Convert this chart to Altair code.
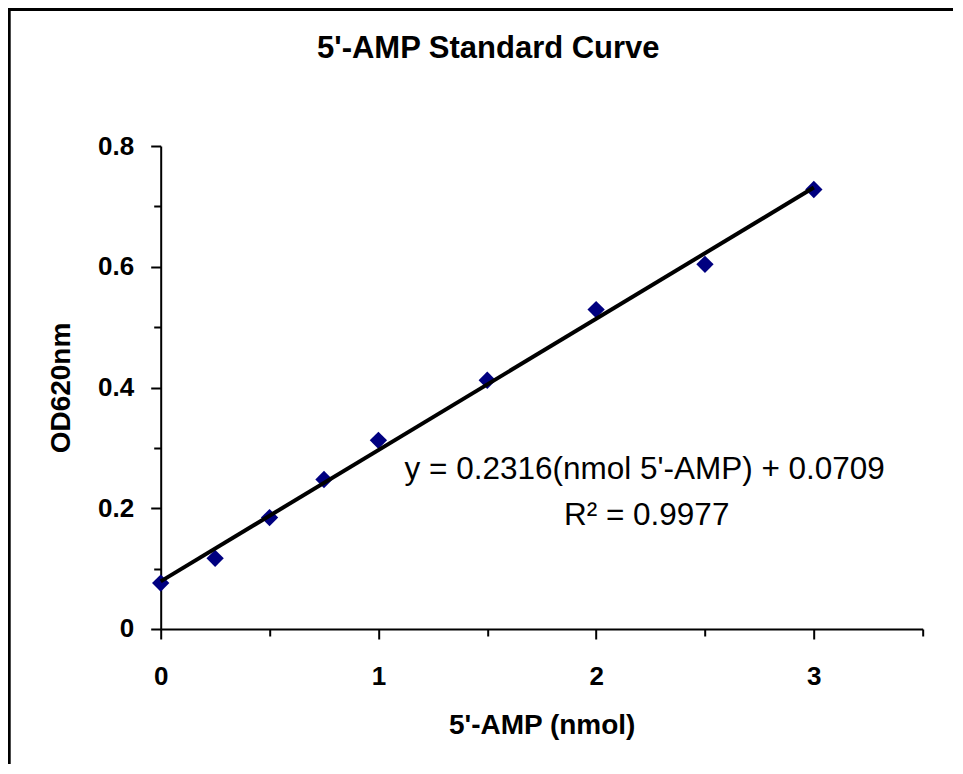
import altair as alt
import pandas as pd

# data
amp_nmol = [0, 0.25, 0.5, 0.75, 1.0, 1.5, 2.0, 2.5, 3.0]
od620 = [0.076, 0.117, 0.1845, 0.2476, 0.3125, 0.412, 0.529, 0.604, 0.728]

x_ticks = [0, 0.5, 1, 1.5, 2, 2.5, 3, 3.5]
y_ticks = [0, 0.1, 0.2, 0.3, 0.4, 0.5, 0.6, 0.7, 0.8]

chart_title = "5'-AMP Standard Curve"
eq_line1 = "y = 0.2316(nmol 5'-AMP) + 0.0709"
eq_line2 = "R\u00b2 = 0.9977"

df = pd.DataFrame({"x": amp_nmol, "y": od620})

FONT = "Liberation Sans"

x_enc = alt.X(
    "x:Q",
    scale=alt.Scale(domain=[0, 3.5], nice=False, zero=True),
    axis=alt.Axis(
        values=x_ticks,
        format=".1~f",
        labelExpr="datum.value % 1 === 0 ? datum.label : ''",
        labelFlush=False,
        labelOverlap=False,
        tickSize={"condition": {"test": "datum.value % 1 === 0", "value": 10}, "value": 7},
        grid=False,
        domainColor="black",
        domainWidth=2,
        tickColor="black",
        tickWidth=2,
        labelFont=FONT,
        labelFontSize=26,
        labelFontWeight="bold",
        labelColor="black",
        labelPadding=25,
        title="5'-AMP (nmol)",
        titleFont=FONT,
        titleFontSize=28,
        titleFontWeight="bold",
        titleColor="black",
        titlePadding=22,
    ),
)

y_enc = alt.Y(
    "y:Q",
    scale=alt.Scale(domain=[0, 0.8], nice=False, zero=True),
    axis=alt.Axis(
        values=y_ticks,
        format=".1~f",
        labelExpr="round(datum.value * 10) % 2 === 0 ? datum.label : ''",
        labelFlush=False,
        labelOverlap=False,
        tickSize={"condition": {"test": "round(datum.value * 10) % 2 === 0", "value": 10}, "value": 7},
        grid=False,
        domainColor="black",
        domainWidth=2,
        tickColor="black",
        tickWidth=2,
        labelFont=FONT,
        labelFontSize=26,
        labelFontWeight="bold",
        labelColor="black",
        labelPadding=17,
        title="OD620nm",
        titleFont=FONT,
        titleFontSize=28,
        titleFontWeight="bold",
        titleColor="black",
        titlePadding=22,
    ),
)

base = alt.Chart(df)

points = base.mark_point(
    shape="diamond", filled=True, color="#000080", size=300, opacity=1
).encode(x=x_enc, y=y_enc)

trend = base.transform_regression("x", "y").mark_line(
    color="black", strokeWidth=4
).encode(x="x:Q", y="y:Q")

note_data = alt.Data(values=[{"t0": chart_title, "t1": eq_line1, "t2": eq_line2}])

title_mark = alt.Chart(note_data).mark_text(
    font=FONT, fontSize=31, fontWeight="bold", color="black",
    align="center", baseline="middle"
).encode(text="t0:N", x=alt.value(327.6), y=alt.value(-97))

note1 = alt.Chart(note_data).mark_text(
    font=FONT, fontSize=31.5, color="black", align="center", baseline="middle"
).encode(text="t1:N", x=alt.value(484), y=alt.value(324))

note2 = alt.Chart(note_data).mark_text(
    font=FONT, fontSize=31.5, color="black", align="center", baseline="middle"
).encode(text="t2:N", x=alt.value(486), y=alt.value(370))

frame = alt.Chart(alt.Data(values=[{}])).mark_rect(
    filled=False, stroke="black", strokeWidth=3
).encode(
    x=alt.value(-151.5), x2=alt.value(1000),
    y=alt.value(-136.5), y2=alt.value(900),
)

chart = alt.layer(frame, points, trend, note1, note2, title_mark).properties(
    width=762,
    height=483,
    autosize=alt.AutoSizeParams(type="none"),
    padding={"left": 152.7, "top": 138, "right": 30, "bottom": 135},
    background="white",
).configure_view(strokeWidth=0)

chart.save("out.html", embed_options={"renderer": "svg", "actions": False})
